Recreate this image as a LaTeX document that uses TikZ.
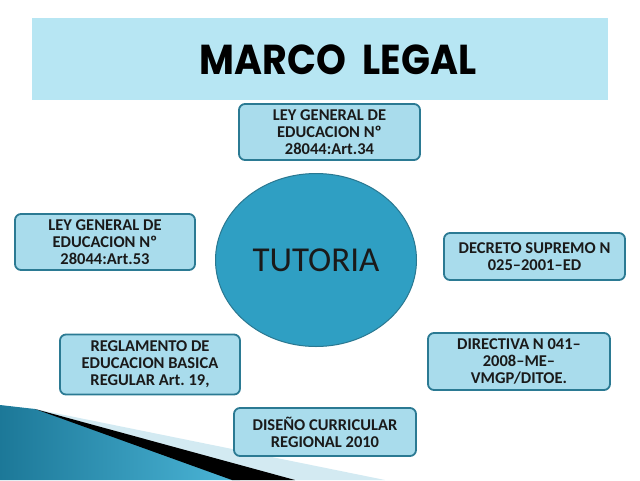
\documentclass[tikz,border=0pt]{standalone}
\usepackage{fontspec}
\setmainfont{Carlito}
\newfontfamily\titlefont{Poppins}
\usetikzlibrary{shapes.geometric}
\definecolor{band}{HTML}{B7E6F3}
\definecolor{boxfill}{HTML}{A9DCEC}
\definecolor{boxline}{HTML}{2B7A93}
\definecolor{ellfill}{HTML}{2F9FC3}
\definecolor{ellline}{HTML}{2A7891}
\definecolor{txt}{HTML}{1A1A1A}
\definecolor{paleband}{HTML}{D3EAF2}
\definecolor{blueA}{HTML}{1C7898}
\definecolor{blueB}{HTML}{4CB6D8}
\frenchspacing
\tikzset{
  legalbox/.style={draw=boxline, line width=1.8pt, fill=boxfill, rounded corners=6pt,
    align=center, font=\fontsize{16.5}{17}\selectfont\bfseries, text=txt, inner sep=0pt},
}
\begin{document}
\begin{tikzpicture}[x=1pt,y=-1pt]
\useasboundingbox (0,0) rectangle (640,480);
\fill[white] (0,0) rectangle (640,480);
% bottom-left decoration
\fill[paleband] (30,408) -- (385,480) -- (270,480) -- cycle;
\shade[left color=blueA, right color=blueB] (0,405) -- (35,409) -- (240,480) -- (0,480) -- cycle;
\fill[black] (35,409) -- (295,480) -- (232,480) -- cycle;
% title band
\fill[band] (32,18) rectangle (608,100);
\node[font=\titlefont\fontsize{38}{42}\selectfont\bfseries, text=black, yscale=1.1] (title) at (338,60) {MARCO\ \ LEGAL};
% central ellipse
\node[ellipse, draw=ellline, line width=1pt, fill=ellfill, minimum width=201pt, minimum height=173pt,
  font=\fontsize{35}{38}\selectfont, text=txt] (tut) at (316,260) {TUTORIA};
% boxes
\node[legalbox, minimum width=181pt, minimum height=56pt] (b1) at (329.5,132) {LEY GENERAL DE\\EDUCACION Nº\\28044:Art.34};
\node[legalbox, minimum width=180pt, minimum height=56pt] (b2) at (105,242) {LEY GENERAL DE\\EDUCACION Nº\\28044:Art.53};
\node[legalbox, minimum width=181pt, minimum height=47pt] (b3) at (534.5,256.5) {DECRETO SUPREMO N\\025–2001–ED};
\node[legalbox, minimum width=180pt, minimum height=60pt] (b4) at (150,364.5) {REGLAMENTO DE\\EDUCACION BASICA\\REGULAR Art. 19,};
\node[legalbox, minimum width=182pt, minimum height=57pt] (b5) at (519,361.5) {DIRECTIVA N 041–\\2008–ME–\\VMGP/DITOE.};
\node[legalbox, minimum width=182pt, minimum height=48pt] (b6) at (325,432) {DISEÑO CURRICULAR\\REGIONAL 2010};
\end{tikzpicture}
\end{document}
